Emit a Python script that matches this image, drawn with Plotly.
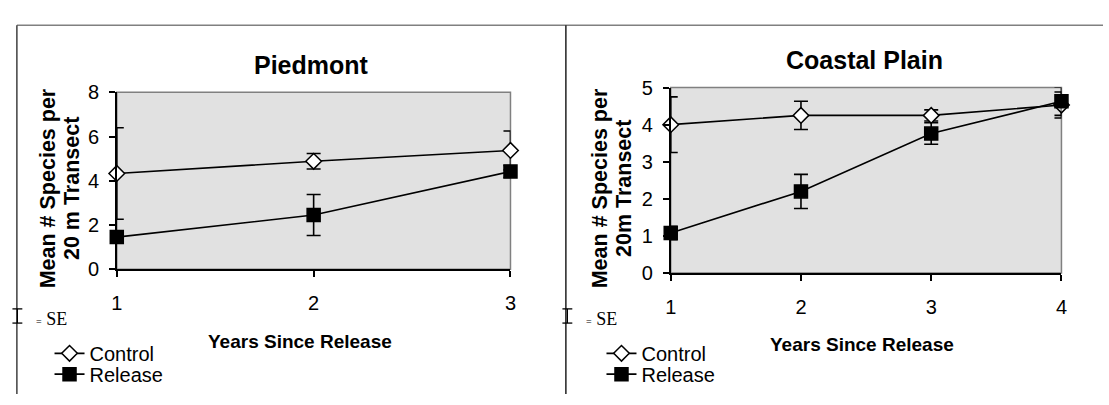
import plotly.graph_objects as go

# ---------------- data ----------------
pied_years = [1, 2, 3]
pied_control = [4.33, 4.88, 5.37]
pied_control_se = [2.07, 0.35, 0.88]
pied_release = [1.45, 2.45, 4.42]
pied_release_se = [0.22, 0.93, 0.27]

coast_years = [1, 2, 3, 4]
coast_control = [4.0, 4.25, 4.25, 4.53]
coast_control_se = [0.75, 0.38, 0.15, 0.35]
coast_release = [1.08, 2.20, 3.76, 4.63]
coast_release_se = [0.18, 0.46, 0.29, 0.38]

pied_yticks = [0, 2, 4, 6, 8]
coast_yticks = [0, 1, 2, 3, 4, 5]

W, H = 1109, 405
FONT = "Liberation Sans, Arial, sans-serif"


def px(x):
    return x / W


def py(y):
    return 1 - y / H


fig = go.Figure()


def add_series(xs, ys, se, name, sym, fill, xa, ya, legend):
    fig.add_trace(go.Scatter(
        x=xs, y=ys, name=name, mode="lines+markers",
        xaxis=xa, yaxis=ya, legend=legend, cliponaxis=False,
        line=dict(color="black", width=1.6),
        marker=dict(symbol=sym, size=12 if sym == "diamond" else 13,
                    color=fill, line=dict(color="black", width=1.5)),
        error_y=dict(type="data", array=se, visible=True, color="black",
                     thickness=1.6, width=7),
    ))


add_series(pied_years, pied_control, pied_control_se, "Control", "diamond", "white", "x", "y", "legend")
add_series(pied_years, pied_release, pied_release_se, "Release", "square", "black", "x", "y", "legend2")
add_series(coast_years, coast_control, coast_control_se, "Control", "diamond", "white", "x2", "y2", "legend3")
add_series(coast_years, coast_release, coast_release_se, "Release", "square", "black", "x2", "y2", "legend4")

axis_common = dict(showgrid=False, zeroline=False, showline=True, linecolor="black",
                   linewidth=1.5, ticks="outside", ticklen=6, tickcolor="black",
                   tickwidth=1.5, tickfont=dict(family=FONT, size=20, color="black"))
# inner halves of the "cross" tick marks
inner_common = dict(showgrid=False, zeroline=False, showline=False, ticks="inside",
                    ticklen=5, tickcolor="black", tickwidth=1.5, showticklabels=False)

leg_common = dict(xanchor="left", yanchor="middle", bgcolor="rgba(0,0,0,0)",
                  font=dict(family=FONT, size=20, color="black"), itemwidth=30)

fig.update_layout(
    width=W, height=H, margin=dict(l=0, r=0, t=0, b=0),
    paper_bgcolor="white", plot_bgcolor="#e1e1e1",
    showlegend=True,
    xaxis=dict(domain=[px(112), px(510)], range=[1, 3], tickvals=pied_years,
               anchor="y", ticklabelstandoff=9, **axis_common),
    yaxis=dict(domain=[py(273), py(86)], range=[0, 8], tickvals=pied_yticks,
               anchor="x", ticklabelstandoff=6, **axis_common),
    xaxis2=dict(domain=[px(672), px(1067)], range=[1, 4], tickvals=coast_years,
                anchor="y2", ticklabelstandoff=9, **axis_common),
    yaxis2=dict(domain=[py(277), py(81)], range=[0, 5], tickvals=coast_yticks,
                anchor="x2", ticklabelstandoff=6, **axis_common),
    xaxis3=dict(overlaying="x", anchor="y", range=[1, 3], tickvals=pied_years, **inner_common),
    yaxis3=dict(overlaying="y", anchor="x", range=[0, 8], tickvals=pied_yticks, **inner_common),
    xaxis4=dict(overlaying="x2", anchor="y2", range=[1, 4], tickvals=coast_years, **inner_common),
    yaxis4=dict(overlaying="y2", anchor="x2", range=[0, 5], tickvals=coast_yticks, **inner_common),
    legend=dict(x=px(44), y=py(362), **leg_common),
    legend2=dict(x=px(44), y=py(384), **leg_common),
    legend3=dict(x=px(602), y=py(362), **leg_common),
    legend4=dict(x=px(602), y=py(384), **leg_common),
)

shapes = []
# plot area gray borders
for xr, yr in (("x domain", "y domain"), ("x2 domain", "y2 domain")):
    shapes.append(dict(type="rect", xref=xr, yref=yr, x0=0, x1=1, y0=0, y1=1,
                       line=dict(color="#808080", width=1.5), layer="below"))
# outer frame
shapes.append(dict(type="line", xref="paper", yref="paper", x0=px(11), x1=1,
                   y0=py(15), y1=py(15), line=dict(color="#808080", width=1.5)))
shapes.append(dict(type="line", xref="paper", yref="paper", x0=px(11), x1=px(11),
                   y0=py(15), y1=0, line=dict(color="#404040", width=1.5)))
shapes.append(dict(type="line", xref="paper", yref="paper", x0=px(566), x1=px(566),
                   y0=py(15), y1=0, line=dict(color="#202020", width=1.5)))
# SE icons
for cx in (11.5, 567.5):
    shapes.append(dict(type="line", xref="paper", yref="paper", x0=px(cx), x1=px(cx),
                       y0=py(315), y1=py(330), line=dict(color="black", width=1.3)))
    for yy in (315, 330):
        shapes.append(dict(type="line", xref="paper", yref="paper", x0=px(cx - 5),
                           x1=px(cx + 5), y0=py(yy), y1=py(yy),
                           line=dict(color="black", width=1.3)))
fig.update_layout(shapes=shapes)

ann = []


def text(x, y, s, size, bold=False, angle=0, family=FONT, xanchor="center"):
    ann.append(dict(x=px(x), y=py(y), xref="paper", yref="paper", text=s,
                    showarrow=False, textangle=angle, xanchor=xanchor, yanchor="middle",
                    font=dict(family=family, size=size, color="black",
                              weight="bold" if bold else "normal")))


text(309, 57, "Piedmont", 25, bold=True)
text(868, 52, "Coastal Plain", 25, bold=True)
text(42, 188, "Mean # Species per", 21.5, bold=True, angle=-90)
text(67, 188, "20 m Transect", 21.5, bold=True, angle=-90)
text(600, 188, "Mean # Species per", 21.5, bold=True, angle=-90)
text(625, 188, "20m Transect", 21.5, bold=True, angle=-90)
text(297, 350, "Years Since Release", 19, bold=True)
text(865, 353, "Years Since Release", 19, bold=True)
for x0 in (28, 584):
    ann.append(dict(x=px(x0), y=py(326), xref="paper", yref="paper",
                    text="<span style='font-size:10px'>=</span> SE", showarrow=False,
                    xanchor="left", yanchor="middle",
                    font=dict(family="Liberation Serif, Times New Roman, serif", size=18,
                              color="black")))
fig.update_layout(annotations=ann)

fig.write_html("out.html", config={"displayModeBar": False},
               post_script="document.body.style.margin='0px';")
